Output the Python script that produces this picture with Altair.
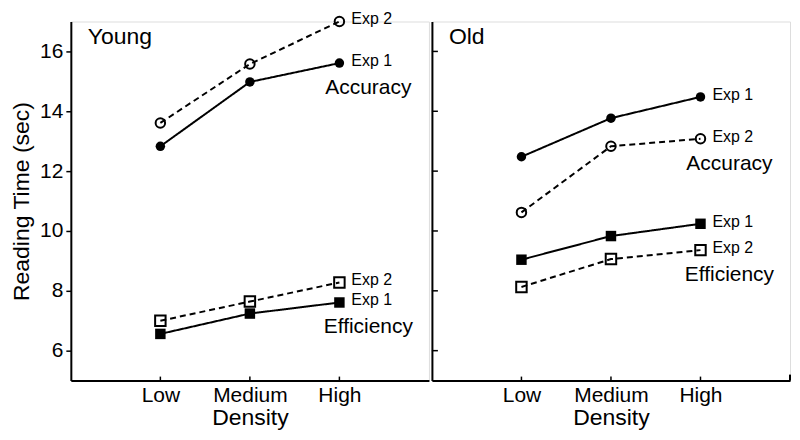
import json
import altair as alt
import pandas as pd

densities = ["Low", "Medium", "High"]
density_pos = [1, 2, 3]
panels = ["Young", "Old"]
measures = ["Accuracy", "Efficiency"]
exps = ["Exp 1", "Exp 2"]

young_acc_exp1 = [12.83, 14.98, 15.61]
young_acc_exp2 = [13.61, 15.58, 17.00]
young_eff_exp1 = [6.56, 7.24, 7.61]
young_eff_exp2 = [7.00, 7.64, 8.28]
old_acc_exp1 = [12.48, 13.77, 14.48]
old_acc_exp2 = [10.62, 12.83, 13.08]
old_eff_exp1 = [9.04, 9.83, 10.24]
old_eff_exp2 = [8.13, 9.06, 9.36]

y_ticks = [6, 8, 10, 12, 14, 16]

series = {
    ("Young", "Accuracy", "Exp 1"): young_acc_exp1,
    ("Young", "Accuracy", "Exp 2"): young_acc_exp2,
    ("Young", "Efficiency", "Exp 1"): young_eff_exp1,
    ("Young", "Efficiency", "Exp 2"): young_eff_exp2,
    ("Old", "Accuracy", "Exp 1"): old_acc_exp1,
    ("Old", "Accuracy", "Exp 2"): old_acc_exp2,
    ("Old", "Efficiency", "Exp 1"): old_eff_exp1,
    ("Old", "Efficiency", "Exp 2"): old_eff_exp2,
}

rows = []
for (panel, measure, exp), vals in series.items():
    for d, p, v in zip(densities, density_pos, vals):
        rows.append(dict(panel=panel, measure=measure, exp=exp,
                         series=f"{measure} {exp}", density=d, pos=p, value=v))
df = pd.DataFrame(rows)

W, H = 359, 360
FONT = "Liberation Sans"
label_expr = f"{json.dumps(densities)}[datum.value - 1]"

shape_scale = alt.Scale(domain=measures, range=["circle", "square"])


def panel_chart(panel, first):
    d = df[df.panel == panel]
    base = alt.Chart(d)
    if first:
        yaxis = alt.Axis(values=y_ticks, tickSize=5, tickWidth=1.5, tickColor="black",
                         labelFontSize=21, labelPadding=3, labelColor="black",
                         title="Reading Time (sec)", titleFontSize=23,
                         titleFontWeight="normal", titlePadding=6, titleColor="black",
                         domainColor="black", domainWidth=2, grid=False)
    else:
        yaxis = alt.Axis(values=y_ticks, ticks=False, labels=False, title=None,
                         domainColor="black", domainWidth=2, grid=False)
    xaxis = alt.Axis(values=density_pos, labelExpr=label_expr, ticks=False,
                     labelFontSize=21, labelPadding=4, labelColor="black",
                     title="Density", titleFontSize=23, titleFontWeight="normal",
                     titlePadding=1, titleColor="black",
                     domainColor="black", domainWidth=2, grid=False)
    xs = alt.Scale(domain=[0, 4], nice=False, zero=False)
    ys = alt.Scale(domain=[5, 17], nice=False, zero=False)

    lines = base.mark_line(color="black", strokeWidth=2).encode(
        x=alt.X("pos:Q", scale=xs, axis=xaxis),
        y=alt.Y("value:Q", scale=ys, axis=yaxis),
        detail="series:N",
        strokeDash=alt.StrokeDash("exp:N", scale=alt.Scale(domain=exps, range=[[1, 0], [6, 4]]),
                                  legend=None),
    )
    filled = base.transform_filter(alt.datum.exp == "Exp 1").mark_point(
        filled=True, color="black", opacity=1).encode(
        x="pos:Q", y="value:Q",
        shape=alt.Shape("measure:N", scale=shape_scale, legend=None),
        size=alt.Size("measure:N", scale=alt.Scale(domain=measures, range=[90, 110]), legend=None),
    )
    hollow = base.transform_filter(alt.datum.exp == "Exp 2").mark_point(
        filled=False, color="black", strokeWidth=2, opacity=1).encode(
        x="pos:Q", y="value:Q",
        shape=alt.Shape("measure:N", scale=shape_scale, legend=None),
        size=alt.Size("measure:N", scale=alt.Scale(domain=measures, range=[45, 50]), legend=None),
    )
    exp_labels = base.transform_filter(alt.datum.density == "High").mark_text(
        align="left", baseline="middle", dx=12, dy=-2, fontSize=16, font=FONT, color="black").encode(
        x="pos:Q", y="value:Q", text="exp:N")
    group_labels = base.transform_filter(alt.datum.density == "High").transform_aggregate(
        minv="min(value)", groupby=["measure", "pos"]).mark_text(
        align="center", baseline="middle", dx=29, dy=25, fontSize=21, font=FONT, color="black").encode(
        x="pos:Q", y="minv:Q", text="measure:N")
    title = base.transform_filter(alt.datum.pos == 1).transform_filter(
        alt.datum.series == "Accuracy Exp 1").mark_text(
        text=panel, align="left", baseline="alphabetic", fontSize=23,
        font=FONT, color="black").encode(x=alt.value(17), y=alt.value(23))
    tick_df = pd.DataFrame({"pos": density_pos})
    xticks = alt.Chart(tick_df).mark_rule(color="black", strokeWidth=1.5).encode(
        x="pos:Q", y=alt.value(H), y2=alt.value(H - 4))
    layers = [lines, filled, hollow, exp_labels, group_labels, title, xticks]
    if not first:
        ytick_df = pd.DataFrame({"v": y_ticks})
        yticks = alt.Chart(ytick_df).mark_rule(color="black", strokeWidth=1.5).encode(
            y=alt.Y("v:Q", scale=ys), x=alt.value(0), x2=alt.value(6))
        end_tick = alt.Chart(pd.DataFrame({"pos": [4]})).mark_rule(color="black", strokeWidth=2).encode(
            x="pos:Q", y=alt.value(H), y2=alt.value(H - 6))
        layers += [yticks, end_tick]
    return alt.layer(*layers).properties(width=W, height=H)


chart = alt.hconcat(panel_chart("Young", True), panel_chart("Old", False), spacing=0).properties(
    padding={"left": 2, "top": 2, "right": 0, "bottom": 0},
    background="white",
).configure_view(stroke=None).configure(font=FONT)

chart.save("out.html", embed_options={"renderer": "svg", "actions": False})
